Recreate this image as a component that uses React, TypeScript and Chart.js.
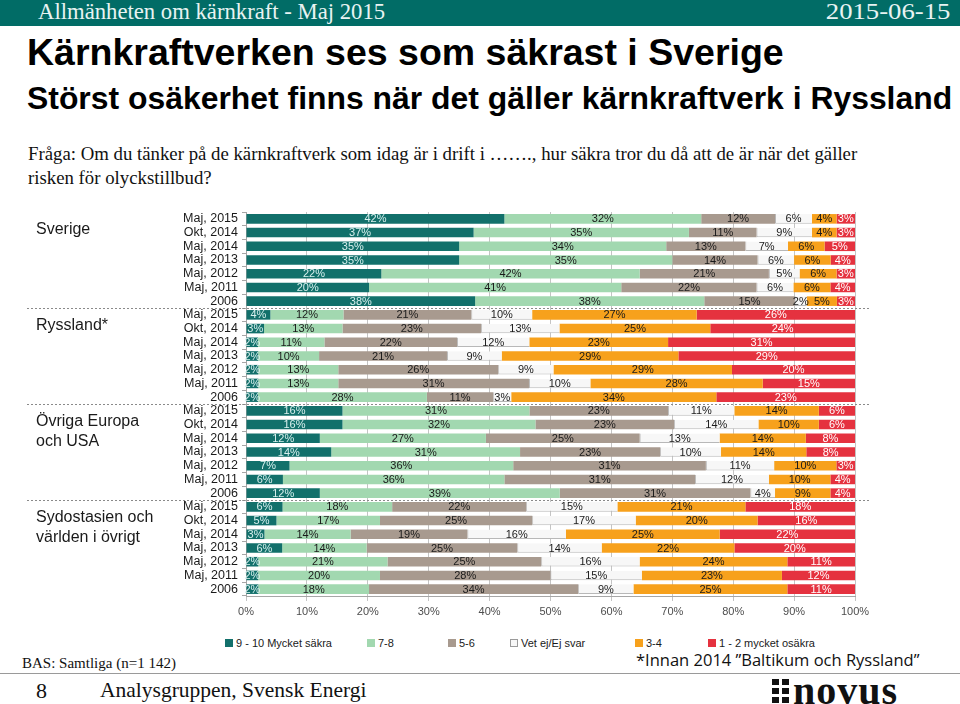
import React, { useEffect, useRef } from "react";
import { Chart, registerables } from "chart.js";

Chart.register(...registerables);

// ---------- DATA ----------
const periods = ["Maj, 2015", "Okt, 2014", "Maj, 2014", "Maj, 2013", "Maj, 2012", "Maj, 2011", "2006"];
const groupNames = [["Sverige"], ["Ryssland*"], ["Övriga Europa", "och USA"], ["Sydostasien och", "världen i övrigt"]];
const rowLabels = [...periods, ...periods, ...periods, ...periods];

const seriesNames = ["9 - 10 Mycket säkra", "7-8", "5-6", "Vet ej/Ej svar", "3-4", "1 - 2 mycket osäkra"];
const seriesColors = ["#12706b", "#a2d8b0", "#a89a8f", "#f7f7f7", "#f7a11c", "#e5323f"];
const labelColors = ["#d8f0ee", "#1a1a1a", "#1a1a1a", "#1a1a1a", "#1a1a1a", "#ffffff"];

const s910 = [42, 37, 35, 35, 22, 20, 38, 4, 3, 2, 2, 2, 2, 2, 16, 16, 12, 14, 7, 6, 12, 6, 5, 3, 6, 2, 2, 2];
const s78 = [32, 35, 34, 35, 42, 41, 38, 12, 13, 11, 10, 13, 13, 28, 31, 32, 27, 31, 36, 36, 39, 18, 17, 14, 14, 21, 20, 18];
const s56 = [12, 11, 13, 14, 21, 22, 15, 21, 23, 22, 21, 26, 31, 11, 23, 23, 25, 23, 31, 31, 31, 22, 25, 19, 25, 25, 28, 34];
const sVet = [6, 9, 7, 6, 5, 6, 2, 10, 13, 12, 9, 9, 10, 3, 11, 14, 13, 10, 11, 12, 4, 15, 17, 16, 14, 16, 15, 9];
const s34 = [4, 4, 6, 6, 6, 6, 5, 27, 25, 23, 29, 29, 28, 34, 14, 10, 14, 14, 10, 10, 9, 21, 20, 25, 22, 24, 23, 25];
const s12 = [3, 3, 5, 4, 3, 4, 3, 26, 24, 31, 29, 20, 15, 23, 6, 6, 8, 8, 3, 4, 4, 18, 16, 22, 20, 11, 12, 11];

const seriesValues = [s910, s78, s56, sVet, s34, s12];
const xTickValues = [0, 10, 20, 30, 40, 50, 60, 70, 80, 90, 100];

const SANS = "'Liberation Sans', Arial, sans-serif";
const SERIF = "'Liberation Serif', 'Times New Roman', serif";

// 100% stacked: each row scaled to its own total (as the original chart type does)
const rowTotals = rowLabels.map((_, i) => seriesValues.reduce((a, s) => a + s[i], 0));

const overlayPlugin = {
  id: "overlay",
  afterDatasetsDraw(chart: any) {
    const ctx = chart.ctx;
    ctx.save();
    ctx.font = `11px ${SANS}`;
    ctx.textAlign = "center";
    ctx.textBaseline = "middle";
    chart.data.datasets.forEach((ds: any, di: number) => {
      const meta = chart.getDatasetMeta(di);
      meta.data.forEach((el: any, i: number) => {
        const raw = ds.rawValues[i];
        const cx = (el.x + el.base) / 2;
        ctx.fillStyle = labelColors[di];
        ctx.fillText(raw + "%", cx, el.y + 0.5);
      });
    });
    ctx.restore();
  },
  afterDraw(chart: any) {
    const ctx = chart.ctx;
    const y = chart.scales.y;
    ctx.save();
    ctx.strokeStyle = "#8a8a8a";
    ctx.lineWidth = 1;
    ctx.setLineDash([2, 2]);
    const bounds: number[] = [];
    for (let g = 0; g <= 4; g++) {
      const idx = g * periods.length;
      let py;
      if (idx === 0) py = chart.chartArea.top;
      else if (idx >= rowLabels.length) py = chart.chartArea.bottom;
      else py = (y.getPixelForValue(idx - 1) + y.getPixelForValue(idx)) / 2;
      bounds.push(py);
      if (g > 0 && g < 4) {
        ctx.beginPath();
        ctx.moveTo(27, Math.round(py) + 0.5);
        ctx.lineTo(870, Math.round(py) + 0.5);
        ctx.stroke();
      }
    }
    ctx.setLineDash([]);
    ctx.fillStyle = "#1a1a1a";
    ctx.font = `16px ${SANS}`;
    ctx.textAlign = "left";
    ctx.textBaseline = "middle";
    groupNames.forEach((lines, g) => {
      lines.forEach((t, li) => {
        ctx.fillText(t, 36, bounds[g] + 18 + li * 20);
      });
    });
    ctx.restore();
  },
};

function ChartCanvas() {
  const ref = useRef<HTMLCanvasElement | null>(null);
  useEffect(() => {
    if (!ref.current) return;
    const chart = new Chart(ref.current, {
      type: "bar",
      data: {
        labels: rowLabels,
        datasets: seriesNames.map((name, si) => ({
          label: name,
          data: seriesValues[si].map((v, i) => (v / rowTotals[i]) * 100),
          rawValues: seriesValues[si],
          backgroundColor: seriesColors[si],
          borderColor: si === 3 ? "#b8b8b8" : seriesColors[si],
          borderWidth: si === 3 ? { top: 0, bottom: 1, left: 1, right: 0 } : 0,
          borderSkipped: false,
          barPercentage: 0.7,
          categoryPercentage: 1,
        })) as any,
      },
      options: {
        indexAxis: "y",
        responsive: false,
        animation: false,
        devicePixelRatio: 1,
        layout: { padding: { left: 0, right: 105, top: 12, bottom: 0 } },
        plugins: { legend: { display: false }, tooltip: { enabled: false } },
        scales: {
          x: {
            stacked: true,
            min: 0,
            max: 100,
            afterBuildTicks: (s: any) => {
              s.ticks = xTickValues.map((v) => ({ value: v }));
            },
            ticks: {
              callback: (v: any) => v + "%",
              color: "#4d4d4d",
              font: { family: SANS, size: 11 },
              padding: 4,
              maxRotation: 0,
            },
            grid: { color: "#c4c4c4", tickLength: 5, drawTicks: true },
            border: { color: "#a6a6a6" },
            afterFit: (s: any) => {
              s.height = 34;
            },
          },
          y: {
            stacked: true,
            ticks: { color: "#1a1a1a", font: { family: SANS, size: 12.5 }, padding: 4, autoSkip: false },
            grid: { drawOnChartArea: false, tickLength: 4, color: "#a6a6a6", offset: true },
            border: { color: "#a6a6a6" },
            afterFit: (s: any) => {
              s.width = 246;
            },
          },
        },
      } as any,
      plugins: [overlayPlugin],
    });
    return () => chart.destroy();
  }, []);
  return <canvas ref={ref} width={960} height={430} style={{ position: "absolute", left: 0, top: 200 }} />;
}

const legendX = [225, 367, 448, 510, 635, 708];

export default function App() {
  return (
    <div
      style={{
        position: "absolute",
        left: 0,
        top: 0,
        width: 960,
        height: 704,
        overflow: "hidden",
        background: "#ffffff",
        fontFamily: SANS,
      }}
    >
      <div style={{ position: "absolute", left: 0, top: 0, width: 960, height: 26, background: "#016c66" }} />
      <div
        style={{
          position: "absolute",
          left: 38,
          top: 0,
          height: 26,
          lineHeight: "24px",
          color: "#e8f3f2",
          fontFamily: SERIF,
          fontSize: 22.7,
          whiteSpace: "nowrap",
        }}
      >
        Allmänheten om kärnkraft - Maj 2015
      </div>
      <div
        style={{
          position: "absolute",
          right: 10,
          top: 0,
          height: 26,
          lineHeight: "24px",
          color: "#e8f3f2",
          fontFamily: SERIF,
          fontSize: 23,
          whiteSpace: "nowrap",
          transform: "scaleX(1.16)",
          transformOrigin: "right center",
        }}
      >
        2015-06-15
      </div>

      <div
        style={{
          position: "absolute",
          left: 27,
          top: 31,
          fontSize: 37.5,
          fontWeight: "bold",
          color: "#000",
          whiteSpace: "nowrap",
          lineHeight: "42px",
        }}
      >
        Kärnkraftverken ses som säkrast i Sverige
      </div>
      <div
        style={{
          position: "absolute",
          left: 27,
          top: 80,
          fontSize: 31.9,
          fontWeight: "bold",
          color: "#000",
          whiteSpace: "nowrap",
          lineHeight: "36px",
        }}
      >
        Störst osäkerhet finns när det gäller kärnkraftverk i Ryssland
      </div>
      <div
        style={{
          position: "absolute",
          left: 28,
          top: 142,
          width: 880,
          fontSize: 18.8,
          fontFamily: SERIF,
          color: "#111",
          lineHeight: "24px",
        }}
      >
        Fråga: Om du tänker på de kärnkraftverk som idag är i drift i ……., hur säkra tror du då att de är när det gäller
        <br />
        risken för olyckstillbud?
      </div>

      <ChartCanvas />

      {seriesNames.map((n, i) => (
        <div
          key={n}
          style={{
            position: "absolute",
            left: legendX[i],
            top: 636,
            height: 14,
            display: "flex",
            alignItems: "center",
            fontSize: 11,
            color: "#1a1a1a",
            whiteSpace: "nowrap",
          }}
        >
          <span
            style={{
              display: "inline-block",
              width: 6,
              height: 6,
              background: seriesColors[i],
              border: i === 3 ? "1px solid #9a9a9a" : `1px solid ${seriesColors[i]}`,
              marginRight: 3,
            }}
          />
          {n}
        </div>
      ))}

      <div
        style={{
          position: "absolute",
          left: 22,
          top: 655,
          fontFamily: SERIF,
          fontSize: 15,
          color: "#111",
          whiteSpace: "nowrap",
        }}
      >
        BAS: Samtliga (n=1 142)
      </div>
      <div
        style={{
          position: "absolute",
          left: 636,
          top: 648,
          fontFamily: "'Open Sans', sans-serif",
          fontSize: 16.5,
          color: "#111",
          whiteSpace: "nowrap",
        }}
      >
        *Innan 2014 ”Baltikum och Ryssland”
      </div>

      <div style={{ position: "absolute", left: 0, top: 673, width: 960, height: 1, background: "#9a9a9a" }} />
      <div
        style={{
          position: "absolute",
          left: 36,
          top: 678,
          fontFamily: SERIF,
          fontSize: 22,
          color: "#111",
          whiteSpace: "nowrap",
        }}
      >
        8
      </div>
      <div
        style={{
          position: "absolute",
          left: 100,
          top: 678,
          fontFamily: SERIF,
          fontSize: 21.5,
          color: "#111",
          whiteSpace: "nowrap",
        }}
      >
        Analysgruppen, Svensk Energi
      </div>
      <div
        style={{
          position: "absolute",
          left: 772,
          top: 676,
          display: "flex",
          alignItems: "center",
        }}
      >
        <div style={{ display: "grid", gridTemplateColumns: "7px 7px", gap: 3, marginRight: 4 }}>
          {[0, 1, 2, 3, 4, 5].map((k) => (
            <span key={k} style={{ width: 7, height: 6, background: "#111", display: "block" }} />
          ))}
        </div>
        <span
          style={{
            fontFamily: SERIF,
            fontWeight: "bold",
            fontSize: 40,
            lineHeight: "30px",
            color: "#111",
            letterSpacing: 1,
          }}
        >
          novus
        </span>
      </div>
    </div>
  );
}
